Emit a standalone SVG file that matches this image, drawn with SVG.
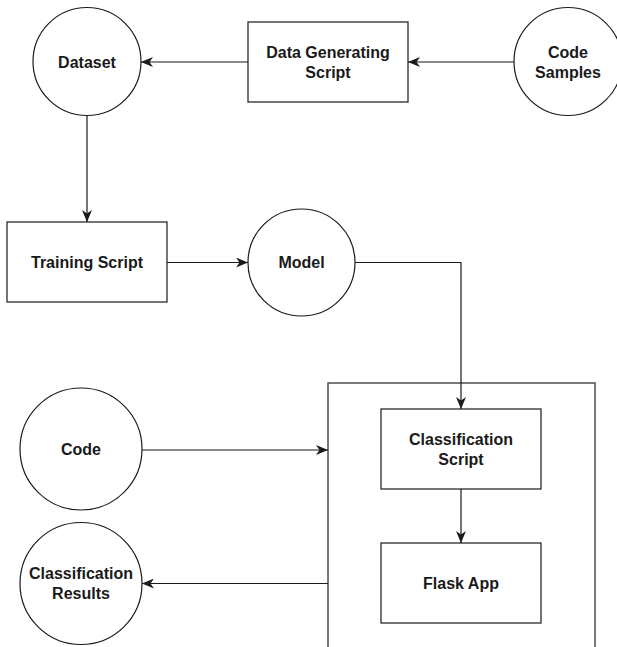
<svg xmlns="http://www.w3.org/2000/svg" width="617" height="647" viewBox="0 0 617 647">
<style>
.shape{fill:#fff;stroke:#1a1a1a;stroke-width:1.2}
.container{fill:none;stroke:#4d4d4d;stroke-width:1.5}
.lbl{font-family:"Liberation Sans",Arial,sans-serif;font-size:16px;font-weight:bold;fill:#1a1a1a;text-anchor:middle}
.edge{fill:none;stroke:#1a1a1a;stroke-width:1.2}
</style>
<defs>
<marker id="arr" markerUnits="userSpaceOnUse" markerWidth="12" markerHeight="10" viewBox="0 0 12 10" refX="12" refY="5" orient="auto">
<path d="M0,0 L12,5 L0,10 L3.5,5 Z" fill="#1a1a1a"/>
</marker>
</defs>
<rect width="617" height="647" fill="#fff"/>
<g id="container">
<path class="container" d="M328,650 V383 H595 V650"/>
</g>
<g id="dataset">
<circle class="shape" cx="87" cy="61.5" r="54"/>
<text class="lbl" x="87" y="67.5">Dataset</text>
</g>
<g id="data-generating-script">
<rect class="shape" x="248" y="22" width="160" height="80"/>
<text class="lbl" x="328" y="57.5">Data Generating</text>
<text class="lbl" x="328" y="77.5">Script</text>
</g>
<g id="code-samples">
<circle class="shape" cx="568" cy="61.5" r="54"/>
<text class="lbl" x="568" y="57.5">Code</text>
<text class="lbl" x="568" y="77.5">Samples</text>
</g>
<g id="training-script">
<rect class="shape" x="7" y="222" width="160" height="80"/>
<text class="lbl" x="87" y="268">Training Script</text>
</g>
<g id="model">
<circle class="shape" cx="301.5" cy="262.5" r="53.5"/>
<text class="lbl" x="301.5" y="268">Model</text>
</g>
<g id="classification-script">
<rect class="shape" x="381" y="409" width="160" height="80"/>
<text class="lbl" x="461" y="445">Classification</text>
<text class="lbl" x="461" y="465">Script</text>
</g>
<g id="flask-app">
<rect class="shape" x="381" y="543" width="160" height="80"/>
<text class="lbl" x="461" y="589">Flask App</text>
</g>
<g id="code">
<circle class="shape" cx="81" cy="449" r="61"/>
<text class="lbl" x="81" y="455">Code</text>
</g>
<g id="classification-results">
<circle class="shape" cx="81" cy="583.5" r="61"/>
<text class="lbl" x="81" y="579">Classification</text>
<text class="lbl" x="81" y="599">Results</text>
</g>
<g id="connectors">
<path class="edge" marker-end="url(#arr)" d="M514,62 H408"/>
<path class="edge" marker-end="url(#arr)" d="M248,62 H141"/>
<path class="edge" marker-end="url(#arr)" d="M87,115.5 V222"/>
<path class="edge" marker-end="url(#arr)" d="M167,262.5 H248"/>
<path class="edge" marker-end="url(#arr)" d="M355,262.5 H461 V409"/>
<path class="edge" marker-end="url(#arr)" d="M461,489 V543"/>
<path class="edge" marker-end="url(#arr)" d="M142,450 H328"/>
<path class="edge" marker-end="url(#arr)" d="M328,583.5 H142"/>
</g>
</svg>
